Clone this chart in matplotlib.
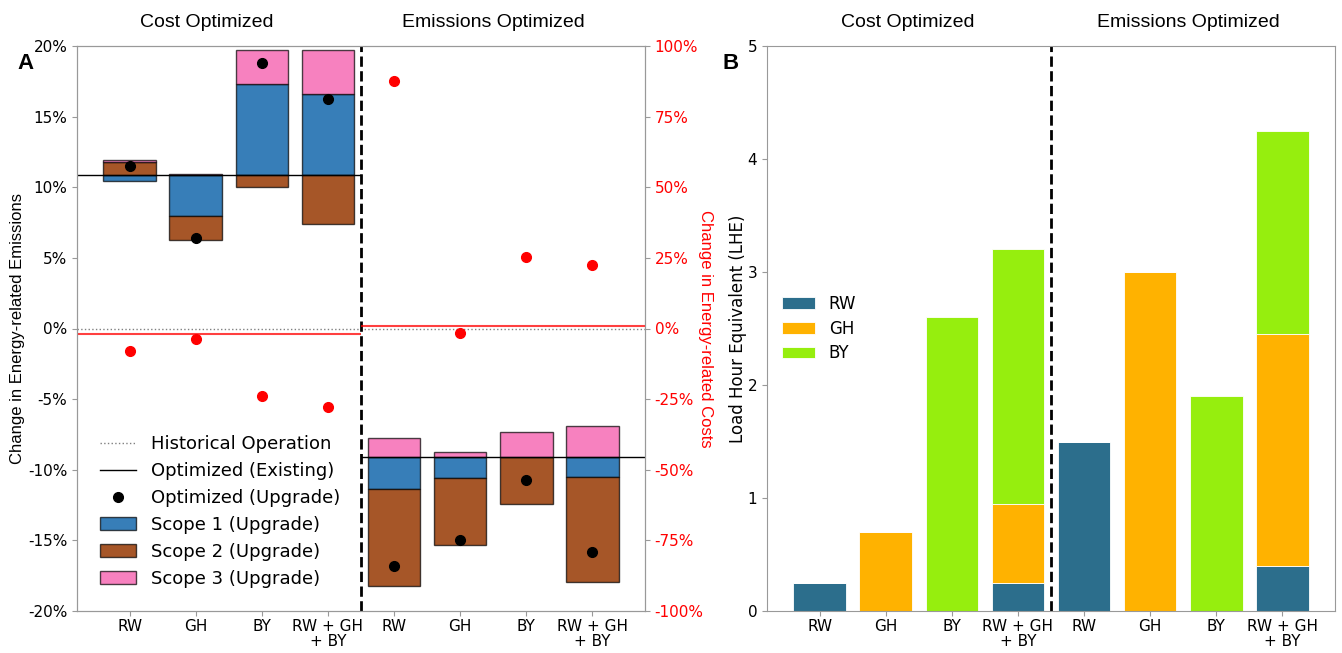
import matplotlib
matplotlib.use("Agg")
import matplotlib.pyplot as plt
import numpy as np
from matplotlib.lines import Line2D
from matplotlib.patches import Patch
from matplotlib.ticker import FuncFormatter

# categories (cost optimized, then emissions optimized)
categories = ["RW", "GH", "BY", "RW + GH\n+ BY"] * 2
group_titles = ["Cost Optimized", "Emissions Optimized"]

# panel A: change in energy-related emissions (%)
existing_emis = [10.88, -9.07]          # optimized (existing) per scenario
scope1 = [-0.42, -2.88, 6.43, 5.70, -2.26, -1.51, 0.0, -1.41]
scope2 = [0.90, -1.71, -0.89, -3.46, -6.88, -4.76, -3.39, -7.49]
scope3 = [0.16, 0.05, 2.41, 3.14, 1.35, 0.35, 1.74, 2.17]
emis_upgrade = [11.52, 6.41, 18.82, 16.23, -16.84, -14.98, -10.76, -15.81]

# panel A right axis: change in energy-related costs (%)
cost_existing = [-2.0, 1.0]
cost_upgrade = [-7.8, -3.6, -24.0, -27.7, 87.7, -1.5, 25.2, 22.5]

# panel B: load hour equivalent
lhe_rw = [0.25, 0, 0, 0.25, 1.5, 0, 0, 0.4]
lhe_gh = [0, 0.7, 0, 0.7, 0, 3.0, 0, 2.05]
lhe_by = [0, 0, 2.6, 2.25, 0, 0, 1.9, 1.8]

scope_colors = ["#377eb8", "#a65628", "#f781bf"]
scope_labels = ["Scope 1 (Upgrade)", "Scope 2 (Upgrade)", "Scope 3 (Upgrade)"]
lhe_colors = ["#2c6e8c", "#ffb200", "#96ee0e"]
spine_gray = "#999999"
arial = "Liberation Sans"

plt.rcParams["font.size"] = 12

W, H = 1342, 653
fig = plt.figure(figsize=(W / 100, H / 100), dpi=100)
x = np.arange(len(categories))

# ---------------- panel A ----------------
axA = fig.add_axes([77 / W, 42 / H, 568 / W, 565 / H])
base = np.repeat(existing_emis, 4).astype(float)
pos_bot = base.copy()
neg_bot = base.copy()
for vals, c in zip([scope1, scope2, scope3], scope_colors):
    v = np.array(vals, dtype=float)
    bots = np.where(v >= 0, pos_bot, neg_bot)
    axA.bar(x, v, 0.8, bottom=bots, color=c, edgecolor=(0, 0, 0, 0.7), linewidth=1)
    pos_bot += np.where(v >= 0, v, 0)
    neg_bot += np.where(v < 0, v, 0)

axA.axhline(0, color="gray", ls=":", lw=1)
axA.hlines(existing_emis[0], -0.8, 3.5, color="black", lw=1)
axA.hlines(existing_emis[1], 3.5, 7.8, color="black", lw=1)
axA.plot(x, emis_upgrade, "o", color="black", ms=7, zorder=5)
axA.axvline(3.5, color="black", ls="--", lw=2)
axA.set_xlim(-0.8, 7.8)
axA.set_ylim(-20, 20)
axA.set_yticks(np.arange(-20, 21, 5))
axA.yaxis.set_major_formatter(FuncFormatter(lambda v, p: f"{v:.0f}%"))
axA.set_xticks(x)
axA.set_xticklabels(categories)
axA.set_ylabel("Change in Energy-related Emissions", fontfamily=arial, fontsize=12, va="center")
axA.yaxis.set_label_coords((18 - 77) / 568, 0.5)

ax2 = axA.twinx()
ax2.set_ylim(-100, 100)
ax2.set_yticks(np.arange(-100, 101, 25))
ax2.yaxis.set_major_formatter(FuncFormatter(lambda v, p: f"{v:.0f}%"))
ax2.hlines(cost_existing[0], -0.8, 3.5, color="red", lw=1.5, alpha=0.75)
ax2.hlines(cost_existing[1], 3.5, 7.8, color="red", lw=1.5, alpha=0.75)
ax2.plot(x, cost_upgrade, "o", color="red", ms=7)
ax2.tick_params(axis="y", labelcolor="red")
ax2.set_ylabel("Change in Energy-related Costs", color="red", fontfamily=arial,
               fontsize=12, rotation=270, va="center")
ax2.yaxis.set_label_coords((705 - 77) / 568, 0.5)

handles = [
    Line2D([], [], color="gray", ls=":", lw=1),
    Line2D([], [], color="black", lw=1),
    Line2D([], [], color="black", marker="o", ls="none", ms=7),
] + [Patch(facecolor=c, edgecolor=(0, 0, 0, 0.7)) for c in scope_colors]
labels = ["Historical Operation", "Optimized (Existing)", "Optimized (Upgrade)"] + scope_labels
ax2.legend(handles, labels, loc="lower left", bbox_to_anchor=(0.012, 0.012),
           frameon=False, fontsize=13, labelspacing=0.5)

# ---------------- panel B ----------------
axB = fig.add_axes([767 / W, 42 / H, 568 / W, 565 / H])
bot = np.zeros(len(categories))
for vals, c, lab in zip([lhe_rw, lhe_gh, lhe_by], lhe_colors, ["RW", "GH", "BY"]):
    v = np.array(vals, dtype=float)
    axB.bar(x, v, 0.8, bottom=bot, color=c, edgecolor="white", linewidth=0.6, label=lab)
    bot += v
axB.axvline(3.5, color="black", ls="--", lw=2)
axB.set_xlim(-0.8, 7.8)
axB.set_ylim(0, 5)
axB.set_xticks(x)
axB.set_xticklabels(categories)
axB.set_ylabel("Load Hour Equivalent (LHE)", va="center")
axB.yaxis.set_label_coords((738 - 767) / 568, 0.5)
axB.legend(loc="center left", frameon=False, fontsize=12, labelspacing=0.4)

for ax in [axA, ax2, axB]:
    for s in ax.spines.values():
        s.set_color(spine_gray)
    ax.tick_params(color=spine_gray, labelsize=11)
for ax in [axA, axB]:
    ax.tick_params(axis="x", pad=2)
    for lbl in ax.get_xticklabels():
        lbl.set_linespacing(1.0)

# group titles and panel letters
for xp, t in zip([207, 493, 908, 1188], group_titles * 2):
    fig.text(xp / W, 1 - 27 / H, t, ha="center", va="baseline", fontsize=14, fontfamily=arial)
fig.text(17 / W, 1 - 69 / H, "A", fontsize=16, fontweight="bold", fontfamily=arial)
fig.text(722 / W, 1 - 69 / H, "B", fontsize=16, fontweight="bold", fontfamily=arial)

fig.savefig("out.png", dpi=100)
